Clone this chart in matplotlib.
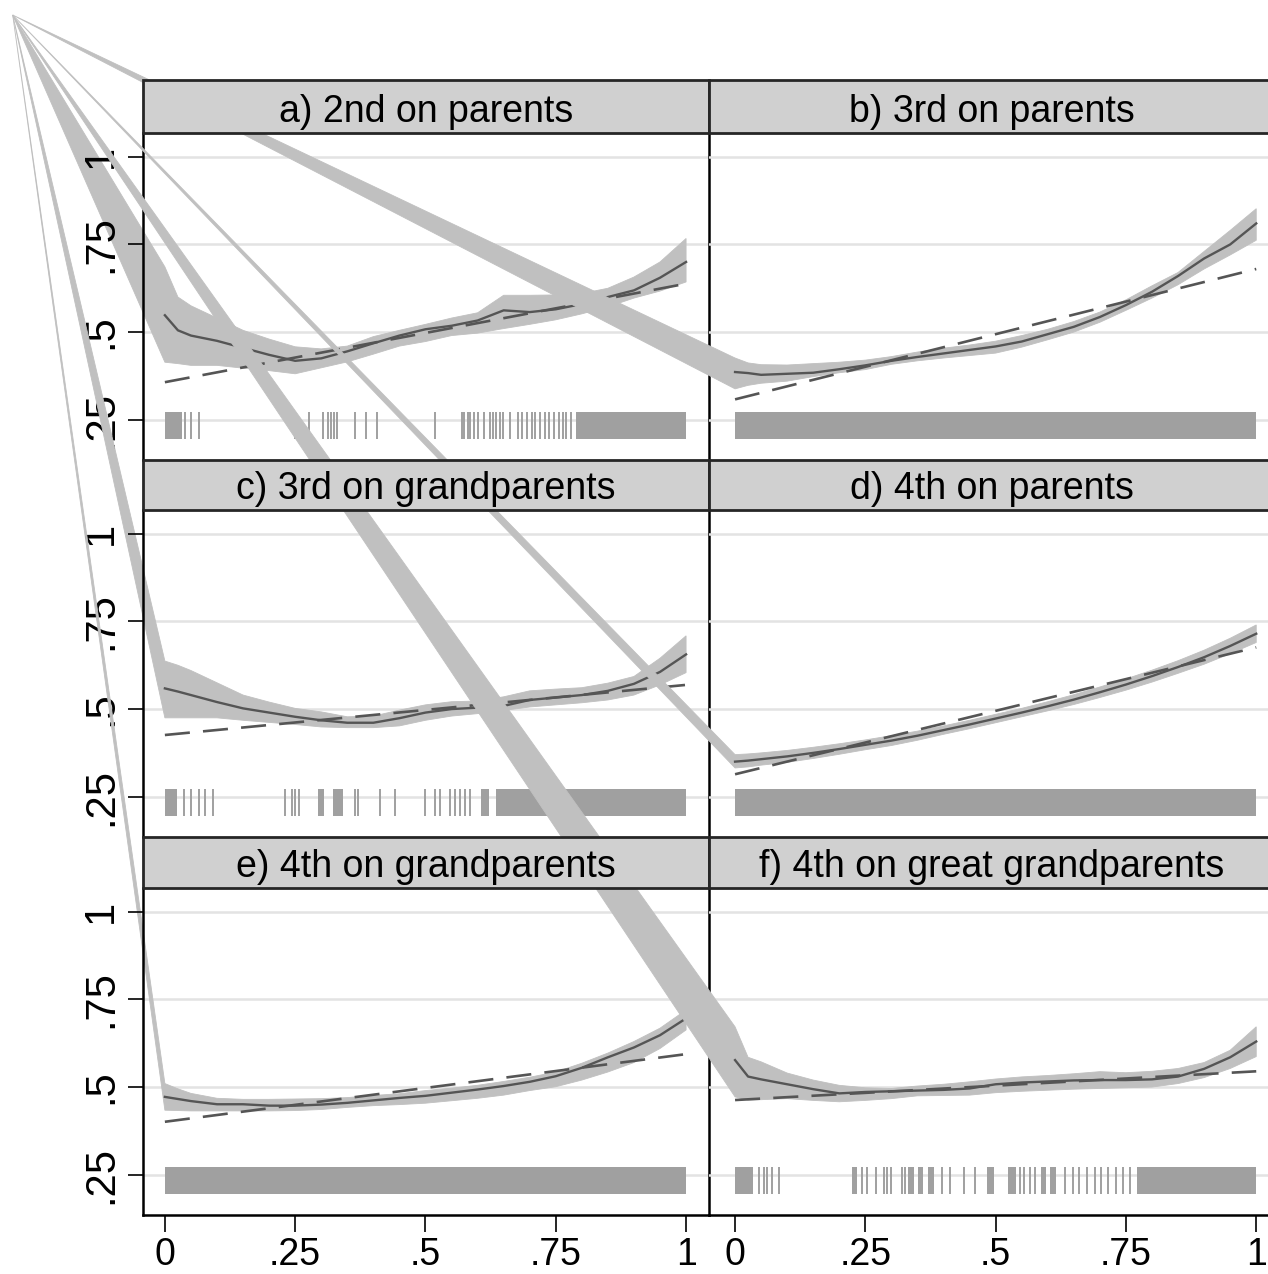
import numpy as np
import matplotlib.pyplot as plt
from matplotlib.patches import Polygon, Rectangle

plt.rcParams['font.family'] = ['Liberation Sans', 'DejaVu Sans']

BAND = '#c0c0c0'
LINE = '#555555'
RUG = '#a0a0a0'
GRID = '#e3e3e3'
STRIP = '#d0d0d0'
EDGE = '#262626'
FS = 27

# ---- data ----
titles = ['a) 2nd on parents', 'b) 3rd on parents', 'c) 3rd on grandparents',
          'd) 4th on parents', 'e) 4th on grandparents', 'f) 4th on great grandparents']

xgrid = [0, .025, .05, .1, .15, .2, .25, .3, .35, .4, .45, .5,
         .55, .6, .65, .7, .75, .8, .85, .9, .95, 1]

a_line = [.548, .505, .49, .475, .455, .435, .418, .425, .445, .468, .49, .508,
          .518, .533, .562, .557, .565, .58, .60, .619, .655, .70]
a_upper = [.686, .60, .575, .54, .505, .48, .458, .452, .46, .487, .505, .522,
           .54, .555, .605, .605, .606, .61, .625, .657, .70, .767]
a_lower = [.414, .41, .405, .405, .397, .39, .381, .398, .415, .437, .46, .473,
           .49, .497, .51, .522, .535, .552, .572, .597, .617, .643]
a_fit = [.357, .638]

b_line = [.386, .383, .378, .381, .384, .394, .405, .418, .429, .439, .449, .459,
          .473, .494, .515, .543, .577, .615, .66, .71, .75, .81]
b_upper = [.426, .412, .407, .406, .41, .414, .42, .43, .443, .454, .463, .474,
           .49, .508, .53, .557, .592, .632, .67, .73, .79, .852]
b_lower = [.338, .348, .354, .36, .373, .384, .393, .408, .418, .426, .433, .44,
           .457, .478, .50, .528, .562, .597, .635, .68, .72, .762]
b_fit = [.308, .68]

c_line = [.559, .55, .54, .52, .502, .49, .478, .468, .461, .461, .474, .49,
          .50, .504, .509, .526, .533, .54, .552, .572, .606, .656]
c_upper = [.637, .625, .61, .575, .54, .52, .502, .492, .478, .48, .497, .512,
           .521, .523, .535, .552, .557, .561, .574, .593, .645, .709]
c_lower = [.475, .475, .475, .475, .468, .462, .456, .449, .447, .447, .452, .468,
           .48, .487, .496, .506, .512, .518, .526, .54, .569, .604]
c_fit = [.426, .569]

d_line = [.35, .353, .357, .365, .375, .386, .398, .41, .424, .44, .456, .473,
          .49, .508, .527, .548, .57, .594, .62, .648, .68, .715]
d_upper = [.37, .372, .375, .382, .391, .401, .412, .424, .437, .452, .468, .485,
           .502, .521, .541, .563, .586, .611, .638, .668, .702, .74]
d_lower = [.332, .335, .34, .348, .359, .371, .384, .396, .411, .428, .444, .461,
           .478, .495, .513, .533, .554, .577, .602, .628, .658, .69]
d_fit = [.314, .676]

e_line = [.472, .466, .46, .451, .451, .447, .447, .45, .455, .462, .469, .475,
          .484, .493, .503, .515, .531, .555, .585, .613, .648, .696]
e_upper = [.51, .495, .482, .468, .465, .465, .466, .467, .47, .476, .481, .49,
           .497, .505, .516, .528, .543, .568, .597, .63, .668, .72]
e_lower = [.434, .433, .432, .432, .432, .432, .433, .436, .442, .447, .45, .454,
           .461, .468, .477, .49, .501, .52, .543, .57, .61, .663]
e_fit = [.401, .594]

f_line = [.577, .53, .522, .508, .494, .482, .486, .488, .49, .492, .496, .508,
          .513, .516, .519, .52, .52, .522, .53, .552, .585, .63]
f_upper = [.672, .585, .572, .54, .52, .505, .498, .496, .503, .508, .515, .523,
           .529, .533, .538, .544, .541, .545, .553, .57, .605, .672]
f_lower = [.472, .463, .464, .467, .462, .458, .462, .467, .475, .476, .477, .484,
           .488, .491, .494, .496, .498, .50, .51, .527, .553, .587]
f_fit = [.463, .545]

# rug plots: single ticks and solid runs of ticks
a_rug = [.039, .050, .065, .25, .276, .304, .313, .318, .325, .331, .364, .385, .407,
         .519, .570, .574, .581, .586, .594, .600, .613, .623, .630, .636, .643, .649,
         .662, .678, .685, .694, .704, .711, .720, .730, .737, .746, .756, .763, .769, .779]
a_runs = [(0, .033), (.788, 1)]
b_rug = []
b_runs = [(0, 1)]
c_rug = [.036, .051, .066, .077, .092, .231, .244, .25, .257, .364, .371, .413, .442,
         .50, .518, .528, .548, .557, .566, .575, .585]
c_runs = [(0, .024), (.294, .305), (.323, .341), (.606, .621), (.635, 1)]
d_rug = []
d_runs = [(0, 1)]
e_rug = []
e_runs = [(0, 1)]
f_rug = [.045, .055, .062, .071, .084, .244, .254, .27, .285, .291, .30, .32, .327,
         .397, .413, .439, .461, .547, .555, .566, .576, .634, .648, .66, .676, .69,
         .703, .716, .73, .745, .757]
f_runs = [(0, .035), (.224, .234), (.332, .344), (.351, .361), (.371, .381),
          (.483, .496), (.524, .540), (.587, .596), (.605, .615), (.772, 1)]

yticks = [.25, .5, .75, 1]
ylabels = ['.25', '.5', '.75', '1']
xticks = [0, .25, .5, .75, 1]
xlabels = ['0', '.25', '.5', '.75', '1']

panels = [
    (a_line, a_upper, a_lower, a_fit, a_rug, a_runs),
    (b_line, b_upper, b_lower, b_fit, b_rug, b_runs),
    (c_line, c_upper, c_lower, c_fit, c_rug, c_runs),
    (d_line, d_upper, d_lower, d_fit, d_rug, d_runs),
    (e_line, e_upper, e_lower, e_fit, e_rug, e_runs),
    (f_line, f_upper, f_lower, f_fit, f_rug, f_runs),
]

# ---- layout (pixels) ----
W, H = 1268, 1274
cols = [(143, 709), (709, 1275)]
rows = [(133, 460), (510, 837), (888, 1215)]
strips = [(80, 133), (460, 510), (837, 888)]
xlims = [(-0.042, 1.044), (-0.05, 1.036)]
YLIM = (0.135, 1.068)
RUG_LO, RUG_HI = 0.195, 0.272
# the exported bands all share a stray vertex near the top-left corner
CORNER = (12.7 / W, 1 - 15 / H)


def box(x0, y0, x1, y1):
    return [x0 / W, 1 - y1 / H, (x1 - x0) / W, (y1 - y0) / H]


fig = plt.figure(figsize=(W / 100, H / 100), dpi=100)

for i, (line, up, lo, fit, rug, runs) in enumerate(panels):
    r, c = divmod(i, 2)
    ax = fig.add_axes(box(cols[c][0], rows[r][0], cols[c][1], rows[r][1]))
    ax.set_facecolor('none')
    ax.set_xlim(*xlims[c])
    ax.set_ylim(*YLIM)

    for yt in yticks:
        ax.axhline(yt, color=GRID, lw=1.8, zorder=0.5)

    # confidence band, with the stray corner vertex
    pts = np.column_stack([xgrid + xgrid[::-1], up + lo[::-1]])
    figpts = fig.transFigure.inverted().transform(ax.transData.transform(pts))
    verts = np.vstack([CORNER, figpts])
    ax.add_patch(Polygon(verts, closed=True, transform=fig.transFigure,
                         facecolor=BAND, edgecolor=BAND, lw=0.6,
                         clip_on=False, zorder=1))

    ax.plot(xgrid, line, color=LINE, lw=1.7, zorder=2)
    ax.plot([0, 1], fit, color=LINE, lw=1.9, ls=(0, (9.5, 5)), zorder=2)

    if rug:
        ax.vlines(rug, RUG_LO, RUG_HI, color=RUG, lw=1.4, zorder=2)
    ax.broken_barh([(s, e - s) for s, e in runs], (RUG_LO, RUG_HI - RUG_LO),
                   facecolor=RUG, edgecolor='none', zorder=2)

    for side in ['top', 'left', 'right', 'bottom']:
        ax.spines[side].set_visible(False)
    if c == 0:
        ax.spines['left'].set_visible(True)
        ax.spines['right'].set_visible(True)
    if r == 2:
        ax.spines['bottom'].set_visible(True)
    for sp in ax.spines.values():
        sp.set_linewidth(1.8)
        sp.set_color('black')

    if c == 0:
        ax.set_yticks(yticks, ylabels, rotation=90, va='center', fontsize=30)
        ax.tick_params(axis='y', length=11, width=1.2, pad=5)
    else:
        ax.set_yticks([])
    if r == 2:
        ax.set_xticks(xticks, xlabels, fontsize=FS)
        ax.tick_params(axis='x', length=12, width=1.2, pad=4)
    else:
        ax.set_xticks([])

    # strip header
    sx0, sx1 = cols[c]
    sy0, sy1 = strips[r]
    fig.patches.append(Rectangle((sx0 / W, 1 - sy1 / H), (sx1 - sx0) / W, (sy1 - sy0) / H,
                                 transform=fig.transFigure, facecolor=STRIP,
                                 edgecolor=EDGE, lw=2, zorder=5))
    fig.text((sx0 + sx1) / 2 / W, 1 - (sy1 - 11) / H, titles[i], ha='center',
             va='baseline', fontsize=FS, color='black', zorder=6)

fig.savefig('out.png', dpi=100)
